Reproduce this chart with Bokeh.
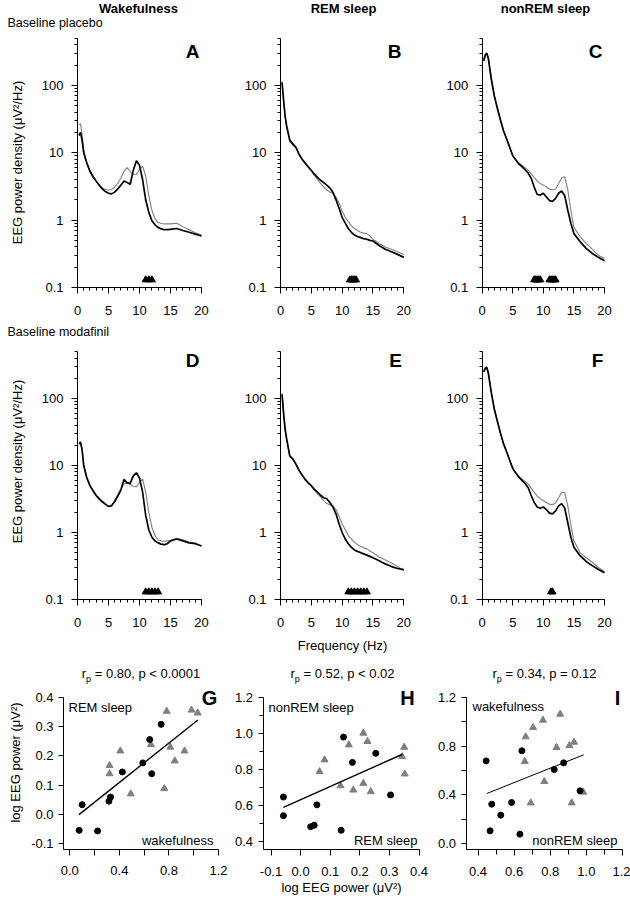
import math
from bokeh.plotting import figure
from bokeh.models import (Range1d, FixedTicker, CustomJSTickFormatter, Label,
                          LinearAxis, LogAxis, LogScale)
from bokeh.embed import file_html
from bokeh.resources import INLINE

FONT = "Liberation Sans"
BLACK = "#000000"
GRAY = "#7f7f7f"
W, H = 630, 898

# ---------------- spectra data ----------------
freq_hz = [0.25, 0.5, 0.75, 1, 1.5, 2, 2.5, 3, 3.5, 4, 4.5, 5, 5.5, 6, 6.5, 7, 7.5, 8,
           8.5, 9, 9.5, 10, 10.5, 11, 11.5, 12, 12.5, 13, 13.5, 14, 14.5, 15, 16, 17,
           18, 19, 20]

wake_plac_black = [18, 20, 15, 10, 7, 5.3, 4.4, 3.8, 3.3, 2.9, 2.65, 2.5, 2.45, 2.6, 2.9, 3.3,
                   3.8, 3.6, 3.4, 5.5, 7.6, 6.5, 4.0, 2.0, 1.3, 0.98, 0.85, 0.78, 0.74, 0.72,
                   0.72, 0.73, 0.75, 0.7, 0.66, 0.62, 0.58]
wake_plac_gray = [26, 27, 18, 11, 7.2, 5.5, 4.5, 3.8, 3.3, 3.0, 2.85, 2.8, 2.85, 3.1, 3.5, 4.2,
                  5.3, 6.0, 5.3, 4.7, 4.8, 5.6, 6.3, 4.5, 2.3, 1.4, 1.05, 0.92, 0.89, 0.88,
                  0.88, 0.88, 0.9, 0.8, 0.72, 0.65, 0.6]
rem_plac_black = [110, 60, 35, 25, 15.5, 13.5, 12, 9.5, 8, 7, 6.2, 5.5, 4.8, 4.3, 3.9, 3.6, 3.3,
                  3.0, 2.6, 2.0, 1.5, 1.1, 0.9, 0.75, 0.66, 0.6, 0.57, 0.55, 0.53, 0.52, 0.5,
                  0.49, 0.42, 0.37, 0.34, 0.31, 0.28]
rem_plac_gray = [115, 60, 34, 24, 14.5, 13, 12, 9.5, 8, 7, 6, 5.3, 4.6, 4.0, 3.5, 3.1, 2.8, 2.6,
                 2.5, 2.2, 1.8, 1.35, 1.1, 0.95, 0.82, 0.75, 0.7, 0.66, 0.64, 0.63, 0.58, 0.52,
                 0.45, 0.4, 0.37, 0.34, 0.31]
nrem_plac_black = [230, 280, 300, 250, 120, 68, 45, 30, 21, 16, 12, 9, 7.8, 6.8, 6.2, 5.6, 5.0,
                   4.2, 3.1, 2.4, 2.35, 2.5, 2.2, 1.95, 1.9, 2.1, 2.5, 2.7, 2.3, 1.4, 0.9, 0.63,
                   0.48, 0.38, 0.32, 0.28, 0.25]
nrem_plac_gray = [240, 290, 300, 260, 130, 72, 46, 31, 21, 16, 12, 9, 7.9, 7.0, 6.5, 6.0, 5.5,
                  4.9, 4.3, 3.8, 3.5, 3.3, 3.1, 2.9, 2.8, 2.9, 3.5, 4.2, 4.4, 2.8, 1.4, 0.78,
                  0.57, 0.45, 0.37, 0.3, 0.27]
wake_moda_black = [21, 22, 17, 10, 6.5, 5.0, 4.2, 3.6, 3.2, 2.9, 2.65, 2.45, 2.5, 2.9, 3.5, 4.3,
                   6.2, 5.5, 5.4, 7.0, 7.8, 6.5, 4.0, 1.8, 1.1, 0.85, 0.75, 0.7, 0.67, 0.66,
                   0.68, 0.75, 0.8, 0.75, 0.7, 0.68, 0.63]
wake_moda_gray = [22, 23, 17, 10, 6.8, 5.2, 4.2, 3.5, 3.1, 2.8, 2.6, 2.45, 2.55, 3.0, 3.7, 4.5,
                  5.3, 5.5, 5.2, 4.9, 4.8, 5.6, 6.3, 4.0, 2.0, 1.2, 0.9, 0.78, 0.75, 0.74, 0.75,
                  0.76, 0.82, 0.78, 0.72, 0.7, 0.63]
rem_moda_black = [115, 60, 35, 25, 14, 12.5, 10.5, 8.5, 7.2, 6.2, 5.5, 5.0, 4.4, 4.0, 3.6, 3.3,
                  3.2, 2.8, 2.4, 1.9, 1.35, 1.0, 0.8, 0.68, 0.6, 0.55, 0.52, 0.5, 0.48, 0.46,
                  0.44, 0.42, 0.38, 0.34, 0.31, 0.29, 0.28]
rem_moda_gray = [120, 60, 34, 24, 13.5, 12.5, 10.5, 8.5, 7.2, 6.2, 5.4, 4.9, 4.3, 3.8, 3.4, 3.0,
                 2.7, 2.6, 2.5, 2.2, 1.75, 1.35, 1.1, 0.9, 0.8, 0.72, 0.66, 0.62, 0.59, 0.57,
                 0.53, 0.5, 0.43, 0.39, 0.35, 0.31, 0.27]
nrem_moda_black = [250, 280, 290, 240, 120, 68, 45, 30, 21, 16, 12, 9, 7.7, 6.7, 6.0, 5.4, 4.7,
                   3.6, 2.8, 2.4, 2.3, 2.4, 2.2, 1.95, 1.9, 2.1, 2.5, 2.7, 2.3, 1.4, 0.85, 0.6,
                   0.45, 0.37, 0.32, 0.28, 0.25]
nrem_moda_gray = [260, 290, 300, 250, 125, 70, 46, 30, 21, 16, 12, 9, 7.8, 6.9, 6.3, 5.8, 5.3,
                  4.6, 4.0, 3.5, 3.2, 3.0, 2.8, 2.65, 2.6, 2.75, 3.3, 4.0, 3.9, 2.5, 1.3, 0.75,
                  0.5, 0.42, 0.36, 0.3, 0.26]

# frequency bins marked as significant (black triangles)
sig_level = 0.13
sig_wake_plac = [11.0, 11.5, 12.0]
sig_rem_plac = [11.25, 11.5, 11.75, 12.0, 12.25]
sig_nrem_plac = [8.5, 8.75, 9.0, 9.25, 9.5, 11.0, 11.25, 11.5, 11.75, 12.0]
sig_wake_moda = [11.0, 11.5, 12.0, 12.5, 13.0]
sig_rem_moda = [11.0, 11.5, 12.0, 12.5, 13.0, 13.5, 14.0]
sig_nrem_moda = [11.25, 11.5]

spec_x_bounds = (0, 20)
spec_y_bounds = (0.1, 500)
spec_x_ticks = [0, 5, 10, 15, 20]
spec_x_minor = list(range(0, 21))
spec_y_ticks = [0.1, 1, 10, 100]
spec_y_minor = [0.2, 0.3, 0.4, 0.5, 0.6, 0.7, 0.8, 0.9, 2, 3, 4, 5, 6, 7, 8, 9,
                20, 30, 40, 50, 60, 70, 80, 90, 200, 300, 400, 500]

# ---------------- scatter data ----------------
g_circ_x = [0.076, 0.100, 0.224, 0.316, 0.329, 0.424, 0.589, 0.645, 0.661, 0.737]
g_circ_y = [-0.055, 0.033, -0.057, 0.045, 0.059, 0.145, 0.176, 0.256, 0.139, 0.308]
g_tri_x = [0.321, 0.321, 0.408, 0.492, 0.655, 0.782, 0.811, 0.847, 0.763, 0.926, 0.982, 1.032]
g_tri_y = [0.167, 0.139, 0.217, 0.070, 0.239, 0.353, 0.230, 0.183, 0.088, 0.217, 0.357, 0.347]
g_fit_x = [0.074, 1.034]
g_fit_y = [-0.001, 0.323]

h_circ_x = [-0.058, -0.058, 0.034, 0.046, 0.055, 0.137, 0.145, 0.175, 0.254, 0.304]
h_circ_y = [0.646, 0.543, 0.482, 0.490, 0.603, 0.462, 0.978, 0.838, 0.888, 0.658]
h_tri_x = [0.064, 0.081, 0.163, 0.212, 0.226, 0.135, 0.178, 0.212, 0.237, 0.350, 0.343, 0.352]
h_tri_y = [0.787, 0.852, 0.935, 1.000, 0.954, 0.709, 0.685, 0.722, 0.676, 0.922, 0.870, 0.774]
h_fit_x = [-0.058, 0.344]
h_fit_y = [0.589, 0.883]

i_circ_x = [0.445, 0.476, 0.467, 0.526, 0.586, 0.632, 0.643, 0.822, 0.874, 0.965]
i_circ_y = [0.679, 0.323, 0.104, 0.233, 0.337, 0.077, 0.762, 0.608, 0.663, 0.433]
i_tri_x = [0.692, 0.659, 0.664, 0.705, 0.760, 0.855, 0.767, 0.835, 0.906, 0.932, 0.919, 0.983]
i_tri_y = [0.334, 0.674, 0.877, 0.953, 1.014, 1.063, 0.510, 0.790, 0.805, 0.833, 0.334, 0.422]
i_fit_x = [0.449, 0.985]
i_fit_y = [0.411, 0.729]

g_x_bounds, g_y_bounds = (-0.05, 1.2), (-0.12, 0.4)
h_x_bounds, h_y_bounds = (-0.127, 0.4), (0.355, 1.2)
i_x_bounds, i_y_bounds = (0.334, 1.2), (-0.05, 1.2)
g_x_ticks = [0.0, 0.4, 0.8, 1.2]
g_x_minor = [0.2, 0.6, 1.0]
g_y_ticks = [-0.1, 0.0, 0.1, 0.2, 0.3, 0.4]
h_x_ticks = [-0.1, 0.0, 0.1, 0.2, 0.3, 0.4]
h_y_ticks = [0.4, 0.6, 0.8, 1.0, 1.2]
h_y_minor = [0.5, 0.7, 0.9, 1.1]
i_x_ticks = [0.4, 0.6, 0.8, 1.0, 1.2]
i_x_minor = [0.5, 0.7, 0.9, 1.1]
i_y_ticks = [0.0, 0.4, 0.8, 1.2]
i_y_minor = [0.2, 0.6, 1.0]

YLAB_SPEC = "EEG power density (\u03bcV\u00b2/Hz)"
YLAB_SCAT = "log EEG power (\u03bcV\u00b2)"

# ---------------- page geometry (pixels on the page) ----------------
# spectra: (x of 0 Hz, x of 20 Hz, y of 0.1, pixels per decade)
GEOM_SPEC = {
    "A": (77.0, 201.0, 287.0, 67.4), "B": (280.0, 403.3, 287.0, 67.4), "C": (481.7, 604.0, 287.0, 67.4),
    "D": (77.0, 201.0, 599.0, 67.0), "E": (280.0, 403.3, 599.0, 67.0), "F": (481.7, 604.0, 599.0, 67.0),
}
# scatter: (x value a, px a, x value b, px b), (y value a, py a, y value b, py b)
GEOM_SCAT = {
    "G": ((0.0, 69.3, 1.2, 218.0), (0.4, 697.0, -0.1, 843.0)),
    "H": ((-0.1, 270.5, 0.4, 418.5), (1.2, 696.5, 0.4, 841.0)),
    "I": ((0.4, 477.5, 1.2, 622.0), (1.2, 697.0, 0.0, 843.0)),
}

p = figure(width=W, height=H, x_range=Range1d(0, W), y_range=Range1d(0, H),
           x_axis_location=None, y_axis_location=None,
           output_backend="svg", toolbar_location=None,
           min_border=0, min_border_left=0, min_border_right=0,
           min_border_top=0, min_border_bottom=0)
p.grid.visible = False
p.outline_line_color = None
p.background_fill_color = "white"
p.border_fill_color = "white"


def lin_range_x(va, pa, vb, pb):
    s = (vb - va) / (pb - pa)
    return Range1d(va - pa * s, va + (W - pa) * s)


def lin_range_y(va, pa, vb, pb):
    qa, qb = H - pa, H - pb
    s = (vb - va) / (qb - qa)
    return Range1d(va - qa * s, va + (H - qa) * s)


def log_range_y(py_01, dec):
    q0 = H - py_01
    return Range1d(10 ** (-1 - q0 / dec), 10 ** (-1 + py_01 / dec))


def style_axis(ax, ticks, minor, fmt, tick_out, minor_out, standoff):
    ax.ticker = FixedTicker(ticks=ticks, minor_ticks=minor)
    ax.formatter = CustomJSTickFormatter(code=fmt)
    ax.axis_line_color = BLACK
    ax.axis_line_width = 1
    ax.major_tick_line_color = BLACK
    ax.minor_tick_line_color = BLACK
    ax.major_tick_in = 0
    ax.minor_tick_in = 0
    ax.major_tick_out = tick_out
    ax.minor_tick_out = minor_out
    ax.major_label_standoff = standoff
    ax.major_label_text_font = FONT
    ax.major_label_text_font_size = "13px"
    ax.major_label_text_color = BLACK


LOG_FMT = "return tick < 1 ? tick.toFixed(1) : tick.toFixed(0);"
INT_FMT = "return tick.toFixed(0);"
DEC_FMT = "return tick.toFixed(1);"

spectra = {
    "A": (wake_plac_black, wake_plac_gray, sig_wake_plac),
    "B": (rem_plac_black, rem_plac_gray, sig_rem_plac),
    "C": (nrem_plac_black, nrem_plac_gray, sig_nrem_plac),
    "D": (wake_moda_black, wake_moda_gray, sig_wake_moda),
    "E": (rem_moda_black, rem_moda_gray, sig_rem_moda),
    "F": (nrem_moda_black, nrem_moda_gray, sig_nrem_moda),
}
scat = {
    "G": (g_circ_x, g_circ_y, g_tri_x, g_tri_y, g_fit_x, g_fit_y, 1.4, g_x_bounds, g_y_bounds,
          g_x_ticks, g_x_minor, 6, g_y_ticks, [], 0),
    "H": (h_circ_x, h_circ_y, h_tri_x, h_tri_y, h_fit_x, h_fit_y, 1.4, h_x_bounds, h_y_bounds,
          h_x_ticks, [], 0, h_y_ticks, h_y_minor, 4),
    "I": (i_circ_x, i_circ_y, i_tri_x, i_tri_y, i_fit_x, i_fit_y, 1.0, i_x_bounds, i_y_bounds,
          i_x_ticks, i_x_minor, 5, i_y_ticks, i_y_minor, 5),
}

extra_x, extra_y, extra_ys = {}, {}, {}
for key in spectra:
    x0, x20, y01, dec = GEOM_SPEC[key]
    extra_x["x" + key] = lin_range_x(0, x0, 20, x20)
    extra_y["y" + key] = log_range_y(y01, dec)
    extra_ys["y" + key] = LogScale()
for key in scat:
    gx, gy = GEOM_SCAT[key]
    extra_x["x" + key] = lin_range_x(*gx)
    extra_y["y" + key] = lin_range_y(*gy)
p.extra_x_ranges = extra_x
p.extra_y_ranges = extra_y
p.extra_y_scales = extra_ys

# ---- spectra panels ----
for key, (black, gray, sig) in spectra.items():
    xn, yn = "x" + key, "y" + key
    p.line(freq_hz, gray, line_color=GRAY, line_width=1.1, x_range_name=xn, y_range_name=yn)
    p.line(freq_hz, black, line_color=BLACK, line_width=1.7, x_range_name=xn, y_range_name=yn)
    p.scatter(sig, [sig_level] * len(sig), marker="triangle", size=7,
              fill_color=BLACK, line_color=BLACK, x_range_name=xn, y_range_name=yn)
    xa = LinearAxis(x_range_name=xn, y_range_name=yn, fixed_location=spec_y_bounds[0],
                    bounds=spec_x_bounds)
    style_axis(xa, spec_x_ticks, spec_x_minor, INT_FMT, 6, 3, 12)
    p.add_layout(xa, "below")
    ya = LogAxis(x_range_name=xn, y_range_name=yn, fixed_location=spec_x_bounds[0],
                 bounds=spec_y_bounds)
    style_axis(ya, spec_y_ticks, spec_y_minor, LOG_FMT, 6, 3, 8)
    p.add_layout(ya, "left")

# ---- scatter panels ----
for key, (cx, cy, tx, ty, fx, fy, fw, xb, yb, xt, xm, xmo, yt, ym, ymo) in scat.items():
    xn, yn = "x" + key, "y" + key
    p.scatter(tx, ty, marker="triangle", size=7, fill_color=GRAY, line_color=GRAY,
              x_range_name=xn, y_range_name=yn)
    p.line(fx, fy, line_color=BLACK, line_width=fw, x_range_name=xn, y_range_name=yn)
    p.scatter(cx, cy, marker="circle", size=6, fill_color=BLACK, line_color=BLACK,
              x_range_name=xn, y_range_name=yn)
    xa = LinearAxis(x_range_name=xn, y_range_name=yn, fixed_location=yb[0], bounds=xb)
    style_axis(xa, xt, xm, DEC_FMT, 6, xmo, 11)
    p.add_layout(xa, "below")
    ya = LinearAxis(x_range_name=xn, y_range_name=yn, fixed_location=xb[0], bounds=yb)
    style_axis(ya, yt, ym, DEC_FMT, 5, ymo, 5)
    p.add_layout(ya, "left")


# ---------------- texts ----------------
def add_text(px, py, text, size="13px", bold=False, align="left", angle=0):
    p.add_layout(Label(x=px, y=H - py, x_units="screen", y_units="screen",
                       text=text, text_font=FONT, text_font_size=size,
                       text_font_style="bold" if bold else "normal",
                       text_align=align, text_baseline="middle",
                       angle=angle, angle_units="deg", text_color=BLACK))


AW = {' ': 0.278, '=': 0.584, '<': 0.584, '.': 0.278, ',': 0.278, 'p': 0.556, 'r': 0.333}


def text_w(s, size):
    return sum(AW.get(c, 0.556) for c in s) * size


def rp_title(cx, cy, rest):
    w_r = text_w("r", 13)
    w_p = text_w("p", 9)
    w_sp = text_w(" ", 13)
    total = w_r + w_p + w_sp + text_w(rest, 13)
    x0 = cx - total / 2
    add_text(x0, cy, "r")
    add_text(x0 + w_r, cy + 5, "p", size="9px")
    add_text(x0 + w_r + w_p + w_sp, cy, rest)


add_text(138, 8, "Wakefulness", bold=True, align="center")
add_text(343, 8, "REM sleep", bold=True, align="center")
add_text(545, 8, "nonREM sleep", bold=True, align="center")
add_text(7, 22, "Baseline placebo", size="12.5px")
add_text(7, 331, "Baseline modafinil", size="12.5px")
add_text(17, 162, YLAB_SPEC, align="center", angle=90)
add_text(17, 461, YLAB_SPEC, align="center", angle=90)
for letter, lx, ly in [("A", 192, 51), ("B", 394, 51), ("C", 595, 51),
                       ("D", 192, 360), ("E", 395, 360), ("F", 597, 360)]:
    add_text(lx, ly, letter, size="19px", bold=True, align="center")
add_text(342, 645, "Frequency (Hz)", align="center")

rp_title(140.5, 673, "= 0.80, p < 0.0001")
rp_title(342, 673, "= 0.52, p < 0.02")
rp_title(544, 673, "= 0.34, p = 0.12")

add_text(68, 707, "REM sleep")
add_text(213, 840, "wakefulness", align="right")
add_text(268, 707, "nonREM sleep")
add_text(417, 840, "REM sleep", align="right")
add_text(472, 706, "wakefulness")
add_text(617, 840, "nonREM sleep", align="right")
for letter, lx, ly in [("G", 209, 697), ("H", 407, 697), ("I", 617, 697)]:
    add_text(lx, ly, letter, size="20px", bold=True, align="center")
add_text(15, 762, YLAB_SCAT, align="center", angle=90)
add_text(341, 887, YLAB_SCAT, align="center")

with open("out.html", "w") as f:
    f.write(file_html(p, INLINE))
